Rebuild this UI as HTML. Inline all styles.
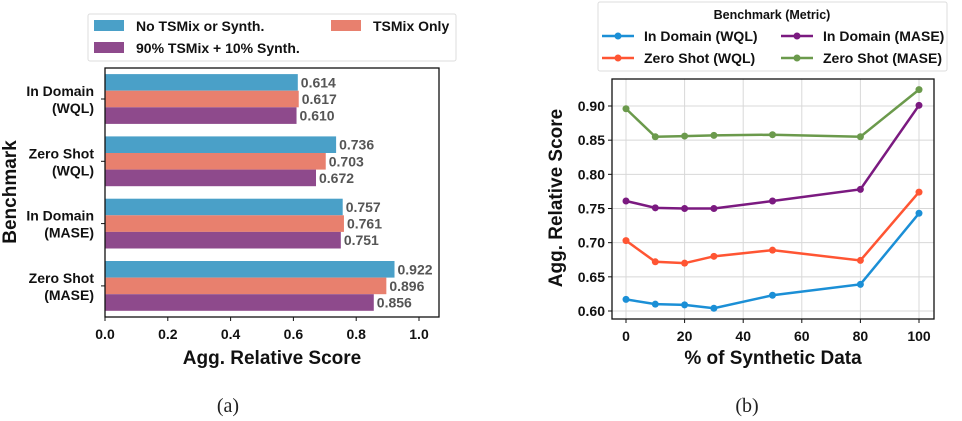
<!DOCTYPE html>
<html><head><meta charset="utf-8"><style>
html,body{margin:0;padding:0;background:#fff;}
svg{display:block;font-family:"Liberation Sans",sans-serif;}
.b{font-weight:bold;}
</style></head><body>
<svg id="s" width="962" height="421" viewBox="0 0 962 421" xmlns="http://www.w3.org/2000/svg">
<g id="left"></g>
<g id="right"></g>
</svg>
<script>
const NS='http://www.w3.org/2000/svg';
function mk(p,tag,attrs,txt){const e=document.createElementNS(NS,tag);for(const k in attrs)e.setAttribute(k,attrs[k]);if(txt!==undefined)e.textContent=txt;p.appendChild(e);return e;}

// ---------- Bar chart data ----------
const barCategories=['In Domain|(WQL)','Zero Shot|(WQL)','In Domain|(MASE)','Zero Shot|(MASE)'];
const barSeriesNames=['No TSMix or Synth.','TSMix Only','90% TSMix + 10% Synth.'];
const barNoTSMix=[0.614,0.736,0.757,0.922];
const barTSMixOnly=[0.617,0.703,0.761,0.896];
const barMixSynth=[0.610,0.672,0.751,0.856];
const barXTicks=[0.0,0.2,0.4,0.6,0.8,1.0];

// ---------- Line chart data ----------
const lineX=[0,10,20,30,50,80,100];
const lineInDomainWQL=[0.617,0.610,0.609,0.604,0.623,0.639,0.743];
const lineZeroShotWQL=[0.703,0.672,0.670,0.680,0.689,0.674,0.774];
const lineInDomainMASE=[0.761,0.751,0.750,0.750,0.761,0.778,0.901];
const lineZeroShotMASE=[0.896,0.855,0.856,0.857,0.858,0.855,0.924];
const lineXTicks=[0,20,40,60,80,100];
const lineYTicks=[0.60,0.65,0.70,0.75,0.80,0.85,0.90];

// ===== Left chart =====
(function(){
const g=document.getElementById('left');
const L=105,R=439,T=68,B=317;
const xs=v=>L+v*314;
const barColors=['#4aa0c8','#e8806e','#8e4a8c'];
const series=[barNoTSMix,barTSMixOnly,barMixSynth];
const bh=16.6, gap=62.3, c0=99;
series.forEach((vals,si)=>{
  vals.forEach((v,ci)=>{
    const cy=c0+ci*gap;
    const y=cy-1.5*bh+si*bh;
    const r=mk(g,'rect',{x:L,y:y,width:xs(v)-L,height:bh,fill:barColors[si]});
    
    
    const t=mk(g,'text',{x:xs(v)+3,y:y+bh/2+5,'font-size':14,'font-weight':'bold',fill:'#555'},v.toFixed(3));
    
    
  });
});
const ax=mk(g,'rect',{x:L,y:T,width:R-L,height:B-T,fill:'none',stroke:'#111','stroke-width':1.3});


barXTicks.forEach(v=>{
  mk(g,'line',{x1:xs(v),x2:xs(v),y1:B,y2:B+4,stroke:'#111'});
  const t=mk(g,'text',{x:xs(v),y:339,'text-anchor':'middle','font-size':14,'font-weight':'bold',fill:'#111'},v.toFixed(1));
  
  
});
barCategories.forEach((c,ci)=>{
  const cy=c0+ci*gap;
  mk(g,'line',{x1:L-4,x2:L,y1:cy,y2:cy,stroke:'#111'});
  const parts=c.split('|');
  const t=mk(g,'text',{x:94,y:cy-3,'text-anchor':'end','font-size':14,'font-weight':'bold',fill:'#111'});
  
  
  mk(t,'tspan',{x:94,dy:0},parts[0]);
  mk(t,'tspan',{x:94,dy:17},parts[1]);
});
const xl=mk(g,'text',{x:272,y:364,'text-anchor':'middle','font-size':19,'font-weight':'bold',fill:'#111'},'Agg. Relative Score');


const yl=mk(g,'text',{x:0,y:0,'text-anchor':'middle','font-size':19,'font-weight':'bold',fill:'#111',transform:'translate(16,192) rotate(-90)'},'Benchmark');


const cap=mk(g,'text',{x:228,y:412,'text-anchor':'middle','font-size':20,'font-family':'Liberation Serif,serif',fill:'#222'},'(a)');


// legend
const lg=mk(g,'g',{});


mk(lg,'rect',{x:88,y:14,width:368,height:47,rx:2,fill:'#fff',stroke:'#ddd'});
const pos=[[94,20,136],[331,20,373],[94,42,136]];
barSeriesNames.forEach((n,i)=>{
  const e=mk(lg,'g',{});
  
  
  mk(e,'rect',{x:pos[i][0],y:pos[i][1],width:30,height:11,fill:barColors[i]});
  mk(e,'text',{x:pos[i][2],y:pos[i][1]+11,'font-size':14,'font-weight':'bold',fill:'#111'},n);
});
})();

// ===== Right chart =====
(function(){
const g=document.getElementById('right');
const L=612,R=934,T=79,B=319;
const xs=v=>626+v*2.93;
const ys=v=>311-(v-0.60)*(205/0.30);
lineXTicks.forEach(v=>{
  mk(g,'line',{x1:xs(v),x2:xs(v),y1:T,y2:B,stroke:'#d8d8d8','stroke-width':1});
  mk(g,'line',{x1:xs(v),x2:xs(v),y1:B,y2:B+4,stroke:'#111'});
  const t=mk(g,'text',{x:xs(v),y:341,'text-anchor':'middle','font-size':14,'font-weight':'bold',fill:'#111'},String(v));
  
  
});
lineYTicks.forEach(v=>{
  mk(g,'line',{x1:L,x2:R,y1:ys(v),y2:ys(v),stroke:'#d8d8d8','stroke-width':1});
  mk(g,'line',{x1:L-4,x2:L,y1:ys(v),y2:ys(v),stroke:'#111'});
  const t=mk(g,'text',{x:L-7,y:ys(v)+5,'text-anchor':'end','font-size':14,'font-weight':'bold',fill:'#111'},v.toFixed(2));
  
  
});
const series=[lineInDomainWQL,lineZeroShotWQL,lineInDomainMASE,lineZeroShotMASE];
const colors=['#1b8fd6','#ff5533','#7b1a80','#6b9a4c'];
const names=['In Domain (WQL)','Zero Shot (WQL)','In Domain (MASE)','Zero Shot (MASE)'];
series.forEach((vals,si)=>{
  const pts=vals.map((v,i)=>xs(lineX[i])+','+ys(v)).join(' ');
  const pl=mk(g,'polyline',{points:pts,fill:'none',stroke:colors[si],'stroke-width':2.5});
  
  
  vals.forEach((v,i)=>{
    const c=mk(g,'circle',{cx:xs(lineX[i]),cy:ys(v),r:3.5,fill:colors[si]});
    
    
  });
});
const ax=mk(g,'rect',{x:L,y:T,width:R-L,height:B-T,fill:'none',stroke:'#111','stroke-width':1.3});


const xl=mk(g,'text',{x:773,y:364,'text-anchor':'middle','font-size':19,'font-weight':'bold',fill:'#111'},'% of Synthetic Data');


const yl=mk(g,'text',{x:0,y:0,'text-anchor':'middle','font-size':19,'font-weight':'bold',fill:'#111',transform:'translate(562,198) rotate(-90)'},'Agg. Relative Score');


const cap=mk(g,'text',{x:747,y:412,'text-anchor':'middle','font-size':20,'font-family':'Liberation Serif,serif',fill:'#222'},'(b)');


const lg=mk(g,'g',{});


mk(lg,'rect',{x:598,y:2,width:349,height:69,rx:2,fill:'#fff',stroke:'#ddd'});
const lt=mk(lg,'text',{x:772,y:19,'text-anchor':'middle','font-size':12.5,'font-weight':'bold',fill:'#111'},'Benchmark (Metric)');


const lp=[[602,36,644],[602,58,644],[781,36,823],[781,58,823]];
names.forEach((n,i)=>{
  const e=mk(lg,'g',{});
  
  
  mk(e,'line',{x1:lp[i][0],x2:lp[i][0]+32,y1:lp[i][1],y2:lp[i][1],stroke:colors[i],'stroke-width':2.5});
  mk(e,'circle',{cx:lp[i][0]+16,cy:lp[i][1],r:3.5,fill:colors[i]});
  mk(e,'text',{x:lp[i][2],y:lp[i][1]+5,'font-size':14,'font-weight':'bold',fill:'#111'},n);
});
})();
</script>
</body></html>
